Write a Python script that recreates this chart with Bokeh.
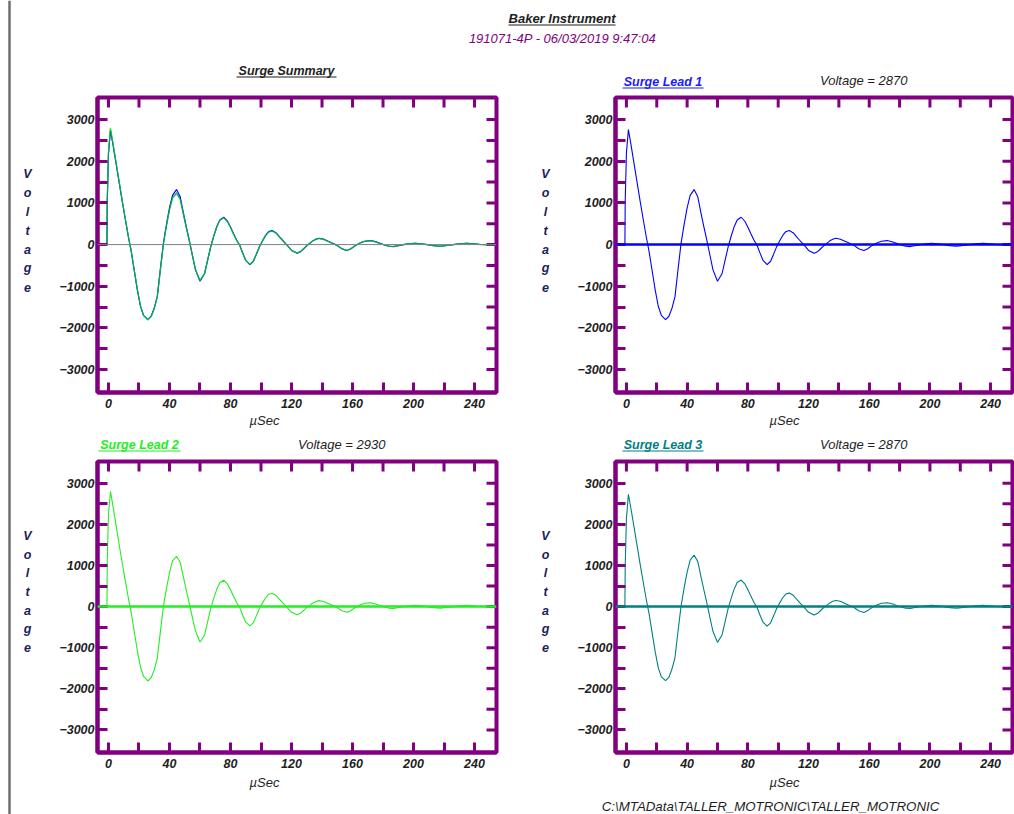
import math
from bokeh.plotting import figure
from bokeh.models import Span, FixedTicker, LinearAxis, Range1d
from bokeh.layouts import column, row
from bokeh.embed import file_html
from bokeh.resources import INLINE
from bokeh.core.properties import value

# ---------------- data ----------------
time_us = [-7, -2, -1, -0.8, 0, 1.3, 3, 5, 7, 9,
           11, 13, 15, 17, 19, 21, 23, 25.8, 28, 30,
           32, 34, 36, 38, 40, 42, 44.6, 47, 49, 51,
           53, 55, 57, 60, 63, 65, 67, 69, 71, 73,
           75.6, 78, 80, 82, 84, 86, 88, 90, 92.7, 95,
           97, 99, 101, 103, 105, 107.3, 110, 112, 114, 116,
           118, 120, 123.7, 126, 128, 130, 132, 134, 136, 138,
           141, 144, 147, 150, 153, 156.5, 159, 162, 165, 168,
           171.8, 175, 178, 181, 184, 187, 191, 196, 201, 205,
           209, 213, 217.7, 222, 226, 230, 235, 239, 243, 247,
           254]

lead1 = [0, 0, 0, 1050, 2200, 2760, 2400, 1950, 1500, 1050,
         620, 200, -180, -640, -1100, -1480, -1700, -1800, -1720, -1530,
         -1250, -600, 30, 480, 880, 1180, 1320, 1150, 780, 430,
         100, -250, -600, -880, -700, -380, -60, 200, 430, 590,
         656, 560, 420, 260, 110, -10, -200, -380, -480, -400,
         -230, -50, 90, 220, 310, 336, 280, 190, 110, 30,
         -50, -140, -208, -170, -100, -30, 30, 90, 130, 152,
         130, 80, 30, -20, -100, -144, -100, -20, 40, 80,
         96, 70, 30, -10, -40, -48, -20, 15, 32, 20,
         0, -25, -40, -20, 0, 20, 32, 20, 5, 0,
         0]

lead2 = [0, 0, 0, 1100, 2250, 2800, 2430, 1970, 1510, 1060,
         630, 210, -170, -630, -1090, -1470, -1700, -1810, -1730, -1540,
         -1260, -620, 0, 440, 820, 1110, 1220, 1080, 740, 400,
         80, -260, -590, -860, -690, -370, -50, 200, 420, 580,
         640, 550, 410, 250, 100, -20, -210, -380, -470, -390,
         -220, -40, 90, 210, 300, 320, 270, 180, 100, 20,
         -60, -140, -200, -160, -90, -20, 30, 90, 125, 145,
         125, 75, 25, -25, -100, -140, -95, -15, 40, 80,
         92, 65, 25, -10, -40, -45, -15, 15, 30, 18,
         0, -25, -38, -18, 0, 20, 30, 18, 4, 0,
         0]

lead3 = [0, 0, 0, 1000, 2150, 2730, 2380, 1940, 1490, 1040,
         610, 190, -190, -650, -1110, -1490, -1710, -1800, -1720, -1520,
         -1240, -600, 10, 450, 840, 1130, 1250, 1100, 750, 410,
         90, -260, -600, -870, -690, -370, -50, 200, 425, 585,
         645, 555, 415, 255, 105, -15, -205, -380, -475, -395,
         -225, -45, 90, 215, 305, 328, 275, 185, 105, 25,
         -55, -140, -205, -165, -95, -25, 30, 90, 128, 148,
         128, 78, 28, -22, -100, -142, -98, -18, 40, 80,
         94, 68, 28, -10, -40, -46, -18, 15, 31, 19,
         0, -25, -39, -19, 0, 20, 31, 19, 5, 0,
         0]

x_major = [0, 40, 80, 120, 160, 200, 240]
x_minor = [20, 60, 100, 140, 180, 220]
y_major = [-3000, -2000, -1000, 0, 1000, 2000, 3000]
y_minor = [-2500, -1500, -500, 500, 1500, 2500]

main_title = "Baker Instrument"
sub_title = "191071-4P - 06/03/2019 9:47:04"
summary_title = "Surge Summary"
footer_text = "C:\\MTAData\\TALLER_MOTRONIC\\TALLER_MOTRONIC"
lead_names = ["Surge Lead 1", "Surge Lead 2", "Surge Lead 3"]
lead_voltages = [2870, 2930, 2870]
x_label = "\u00b5Sec"
y_label = "Voltage"

PURPLE = "#800080"
FONT = "Liberation Sans"
DARK = "#1e1e1e"
YLAB = "#20205a"
LEAD_COLORS = ["#0000ff", "#22ee22", "#008080"]
TITLE_COLORS = ["#1a1aff", "#22ee22", "#008080"]

X_RANGE = (-7.2, 254.4)
Y_RANGE = (-3550, 3530)


def strip_fig(x0, x1, y0, y1):
    """Helper figure whose frame is the whole canvas (page pixel coordinates)."""
    f = figure(width=x1 - x0, height=y1 - y0, output_backend="svg", toolbar_location=None,
               x_range=Range1d(x0, x1), y_range=Range1d(y1, y0),
               x_axis_location=None, y_axis_location=None, min_border=0)
    f.outline_line_color = None
    f.grid.visible = False
    return f


def put(f, x, y, text, color=DARK, style="italic", size="13px", align="center"):
    f.text(x=[x], y=[y], text=[text], text_font=value(FONT), text_font_style=style,
           text_font_size=size, text_color=color, text_align=align, text_baseline="middle")


def put_ul(f, x0, x1, y, text, color, size="12.5px"):
    put(f, (x0 + x1) / 2, y, text, color=color, style="bold italic", size=size)
    f.segment(x0=[x0], y0=[y + 6.5], x1=[x1], y1=[y + 6.5], line_color=color, line_width=1.2)


def style_axis(ax):
    ax.axis_line_color = PURPLE
    ax.axis_line_width = 4
    ax.major_tick_line_color = PURPLE
    ax.major_tick_line_width = 3
    ax.major_tick_in = 10
    ax.major_tick_out = 0
    ax.minor_tick_line_color = PURPLE
    ax.minor_tick_line_width = 3
    ax.minor_tick_in = 10
    ax.minor_tick_out = 0
    ax.major_label_text_font = FONT
    ax.major_label_text_font_style = "bold italic"
    ax.major_label_text_font_size = "12.5px"
    ax.major_label_text_color = DARK


def panel(cx0, cx1, cy0, cy1, FL, FT, FR, FB):
    p = figure(width=cx1 - cx0, height=cy1 - cy0, output_backend="svg", toolbar_location=None,
               x_range=Range1d(*X_RANGE), y_range=Range1d(*Y_RANGE),
               x_axis_location=None, y_axis_location=None,
               min_border_left=FL - cx0, min_border_right=cx1 - FR,
               min_border_top=FT - cy0, min_border_bottom=cy1 - FB)
    p.grid.visible = False
    p.outline_line_color = PURPLE
    p.outline_line_width = 4
    bottom = LinearAxis(ticker=FixedTicker(ticks=x_major, minor_ticks=x_minor),
                        major_label_standoff=6)
    left = LinearAxis(ticker=FixedTicker(ticks=y_major, minor_ticks=y_minor),
                      major_label_standoff=3)
    style_axis(bottom)
    style_axis(left)
    bottom.major_label_text_align = "left"
    p.add_layout(bottom, "below")
    p.add_layout(left, "left")
    # mirrored inward ticks on the top and right edges
    xt = sorted(x_major + x_minor)
    yt = sorted(y_major + y_minor)
    p.ray(x=xt, y=[Y_RANGE[1]] * len(xt), length=10, length_units="screen",
          angle=-math.pi / 2, line_color=PURPLE, line_width=3)
    p.ray(x=[X_RANGE[1]] * len(yt), y=yt, length=10, length_units="screen",
          angle=math.pi, line_color=PURPLE, line_width=3)
    return p


def ylab_strip(x0, x1, y0, y1, xc, ytop):
    f = strip_fig(x0, x1, y0, y1)
    for i, ch in enumerate(y_label):
        put(f, xc, ytop + i * 20.5, ch, color=YLAB, style="bold italic", size="12.5px")
    return f


# ---------------- layout (page pixel geometry) ----------------
line_strip = strip_fig(0, 20, 0, 814)
line_strip.segment(x0=[9], y0=[0], x1=[9], y1=[814], line_color="#6e6e6e", line_width=2.5)

header = strip_fig(20, 1014, 0, 91)
put_ul(header, 508, 615, 18, main_title, DARK, size="13px")
put(header, 562, 38, sub_title, color=PURPLE)
put_ul(header, 236, 336, 70, summary_title, DARK)
put_ul(header, 622, 703, 81, lead_names[0], TITLE_COLORS[0])
put(header, 865, 80, "Voltage =  %d" % lead_voltages[0])

tl = panel(50, 530, 91, 413, 97, 97, 496, 392)
tl.add_layout(Span(location=0, dimension="width", line_color="#808080", line_width=1))
tl.line(time_us, lead1, line_color=LEAD_COLORS[0], line_width=1.2)
tl.line(time_us, lead2, line_color=LEAD_COLORS[1], line_width=1.2)
tl.line(time_us, lead3, line_color=LEAD_COLORS[2], line_width=1.0, line_alpha=0.8)

tr = panel(560, 1014, 91, 413, 615, 97, 1012, 392)
tr.add_layout(Span(location=0, dimension="width", line_color=LEAD_COLORS[0], line_width=2.5))
tr.line(time_us, lead1, line_color=LEAD_COLORS[0], line_width=1.1)

middle = strip_fig(20, 1014, 413, 455)
put(middle, 264, 420, x_label)
put(middle, 784, 420, x_label)
put_ul(middle, 98, 180, 444, lead_names[1], TITLE_COLORS[1])
put(middle, 343, 444, "Voltage =  %d" % lead_voltages[1])
put_ul(middle, 622, 703, 444, lead_names[2], TITLE_COLORS[2])
put(middle, 865, 444, "Voltage =  %d" % lead_voltages[2])

bl = panel(50, 530, 455, 775, 97, 461, 496, 752)
bl.add_layout(Span(location=0, dimension="width", line_color=LEAD_COLORS[1], line_width=2.5))
bl.line(time_us, lead2, line_color=LEAD_COLORS[1], line_width=1.1)

br = panel(560, 1014, 455, 775, 615, 461, 1012, 752)
br.add_layout(Span(location=0, dimension="width", line_color=LEAD_COLORS[2], line_width=2.5))
br.line(time_us, lead3, line_color=LEAD_COLORS[2], line_width=1.1)

footer = strip_fig(20, 1014, 775, 814)
put(footer, 264, 782, x_label)
put(footer, 784, 782, x_label)
put(footer, 770, 806, footer_text, size="13.3px")

top_row = row(ylab_strip(20, 50, 91, 413, 27, 175), tl,
              ylab_strip(530, 560, 91, 413, 545, 175), tr)
bottom_row = row(ylab_strip(20, 50, 455, 775, 27, 537), bl,
                 ylab_strip(530, 560, 455, 775, 545, 537), br)

layout = row(line_strip, column(header, top_row, middle, bottom_row, footer))
open("out.html", "w").write(file_html(layout, INLINE))
